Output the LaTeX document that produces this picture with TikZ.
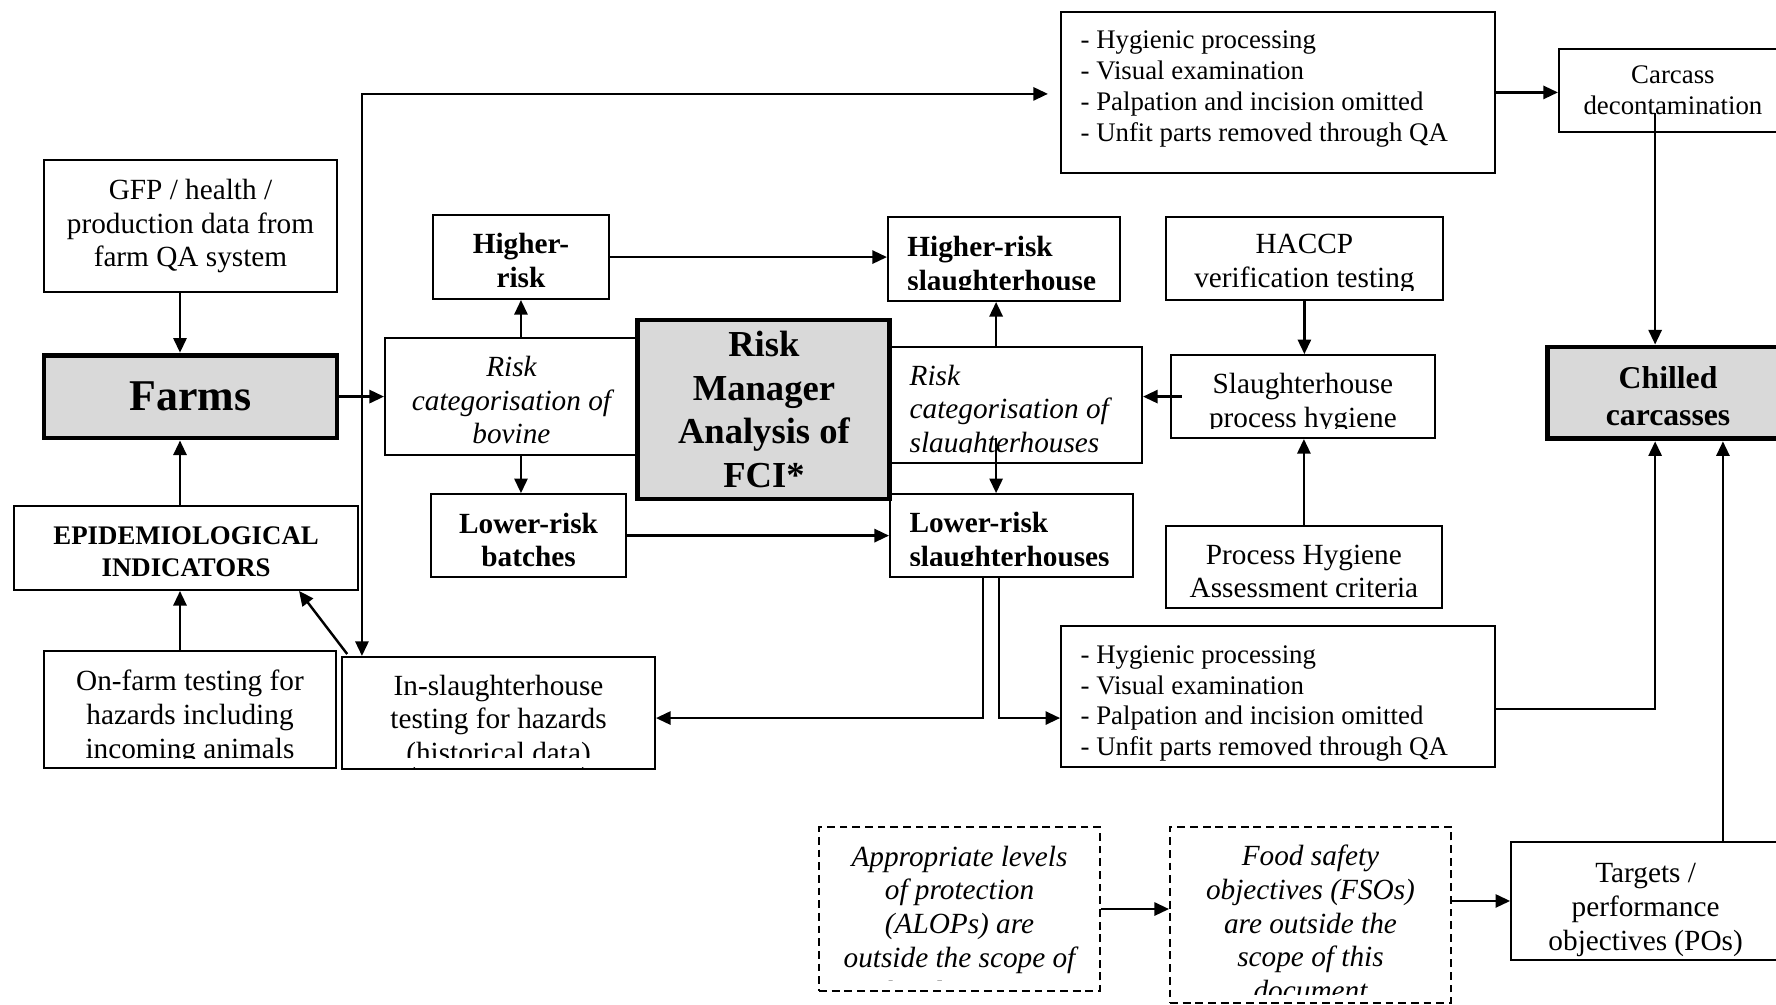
\documentclass[tikz,border=0pt]{standalone}
\usepackage{fontspec}
\setmainfont{Liberation Serif}
\usetikzlibrary{arrows.meta}
\usetikzlibrary{calc}
\definecolor{boxgray}{gray}{0.85}
\tikzstyle{box}=[draw, line width=0.8pt, inner sep=0pt, align=center, font=\fontsize{12}{13.9}\selectfont]
\tikzstyle{mainbox}=[box, line width=2pt, fill=boxgray]
\tikzstyle{dbox}=[draw, line width=0.8pt, inner sep=0pt, dash pattern=on 3.2pt off 2pt]
\tikzstyle{tx}=[inner sep=0pt, align=center, font=\fontsize{12}{13.9}\selectfont]
\tikzstyle{ltx}=[tx, align=flush left]
\tikzstyle{arr}=[line width=1pt, -{Triangle[length=6pt,width=5.4pt]}]
\tikzstyle{arrs}=[line width=1pt, {Triangle[length=6pt,width=5.4pt]}-{Triangle[length=6pt,width=5.4pt]}]
% hides the cut-off bottom of a text box
\newcommand*{\cutoff}[2]{\fill[white] ([shift={(1pt,1pt)}]#1.south west) rectangle ([shift={(-1pt,#2)}]#1.south east);}

\begin{document}
\begin{tikzpicture}[x=1pt, y=-1pt]
    \clip (0,0) rectangle (728.16,412.05);
    % farm side
    \node[box, minimum width=120.1pt, minimum height=54.1pt] (gfp) at (78.1,92.7) {GFP / health /\\ production data from\\ farm QA system};
    \node[mainbox, font=\fontsize{18}{20}\selectfont\bfseries, minimum width=120.1pt, minimum height=34pt] (farms) at (78.1,162.6) {Farms};
    \node[box, minimum width=141pt, minimum height=34.4pt] (epi) at (76.3,224.7) {};
    \node[tx, font=\fontsize{11}{13}\selectfont\bfseries] (epitxt) at ($(epi)+(0,1.4)$) {EPIDEMIOLOGICAL\\ INDICATORS};
    \node[box, minimum width=119.7pt, minimum height=48pt] (onfarm) at (77.9,290.9) {};
    \node[tx] (onfarmtxt) at ($(onfarm)+(0,3.2)$) {On-farm testing for\\ hazards including\\ incoming animals};
    \node[box, minimum width=128.3pt, minimum height=45.9pt] (insl) at (204.4,292.3) {};
    \node[tx] (insltxt) at ($(insl)+(0,3.7)$) {In-slaughterhouse\\ testing for hazards\\ (historical data)};
    % bovine
    \node[box, minimum width=72.2pt, minimum height=34.4pt] (higher) at (213.6,105.4) {};
    \node[tx, font=\fontsize{12}{13.9}\selectfont\bfseries] (highertxt) at ($(higher)+(0,1.4)$) {Higher-\\ risk};
    \node[box, minimum width=103.7pt, minimum height=48pt] (catbov) at (209.7,162.6) {};
    \node[tx, font=\fontsize{12}{13.9}\selectfont\itshape] (catbovtxt) at ($(catbov)+(0,1.4)$) {Risk\\ categorisation of\\ bovine};
    \node[box, minimum width=80pt, minimum height=34pt] (lowerb) at (216.7,219.6) {};
    \node[tx, font=\fontsize{12}{13.9}\selectfont\bfseries] (lowerbtxt) at ($(lowerb)+(0,1.8)$) {Lower-risk\\ batches};
    % slaughterhouses
    \node[box, minimum width=95.1pt, minimum height=34.4pt] (highsl) at (411.6,106.2) {};
    \node[ltx, font=\fontsize{12}{13.9}\selectfont\bfseries, text width=79.1pt] (highsltxt) at ($(highsl)+(0,3.2)$) {Higher-risk\\ slaughterhouse};
    \node[box, minimum width=103.3pt, minimum height=47.6pt] (catsl) at (416.6,166.1) {};
    \node[ltx, font=\fontsize{12}{13.9}\selectfont\itshape, text width=87.3pt] (catsltxt) at ($(catsl)+(0,2.8)$) {Risk\\ categorisation of\\ slaughterhouses};
    \node[box, minimum width=99.6pt, minimum height=34pt] (lowsl) at (414.7,219.6) {};
    \node[ltx, font=\fontsize{12}{13.9}\selectfont\bfseries, text width=83.6pt] (lowsltxt) at ($(lowsl)+(0,2.8)$) {Lower-risk\\ slaughterhouses};
    \node[mainbox, font=\fontsize{15}{17.8}\selectfont\bfseries, minimum width=103.3pt, minimum height=73.4pt] (rm) at (313.2,167.9) {Risk\\ Manager\\ Analysis of\\ FCI*};
    \node[box, minimum width=113.6pt, minimum height=34pt] (haccp) at (534.8,106) {};
    \node[tx] (haccptxt) at ($(haccp)+(0,2.3)$) {HACCP\\ verification testing};
    \node[box, minimum width=108.2pt, minimum height=34pt] (proc) at (534.2,162.6) {};
    \node[tx] (proctxt) at ($(proc)+(0,2.8)$) {Slaughterhouse\\ process hygiene};
    \node[box, minimum width=113.2pt, minimum height=33.6pt] (pha) at (534.6,232.5) {};
    \node[tx] (phatxt) at ($(pha)+(0,1.8)$) {Process Hygiene\\ Assessment criteria};
    \node[box, minimum width=177.9pt, minimum height=66pt] (tophyg) at (524,37.9) {};
    \node[ltx, font=\fontsize{11}{12.6}\selectfont, text width=161.9pt] (tophygtxt) at ($(tophyg)+(0,-1.4)$) {- Hygienic processing\\ - Visual examination\\ - Palpation and incision omitted\\ - Unfit parts removed through QA};
    \node[box, minimum width=177.9pt, minimum height=57.8pt] (bothyg) at (524,285.6) {};
    \node[ltx, font=\fontsize{11}{12.6}\selectfont, text width=161.9pt] (bothygtxt) at ($(bothyg)+(0,2.8)$) {- Hygienic processing\\ - Visual examination\\ - Palpation and incision omitted\\ - Unfit parts removed through QA};
    % carcasses
    \node[box, font=\fontsize{11}{12.7}\selectfont, minimum width=93.5pt, minimum height=34pt] (carcass) at (685.9,37.1) {Carcass\\ decontamination};
    \node[mainbox, minimum width=99.2pt, minimum height=37.7pt] (chilled) at (683.9,161.1) {};
    \node[tx, font=\fontsize{13}{15.2}\selectfont\bfseries] (chilledtxt) at ($(chilled)+(0,1.4)$) {Chilled\\ carcasses};
    \node[box, minimum width=110.3pt, minimum height=48.4pt] (targets) at (674.7,369.4) {};
    \node[tx] (targetstxt) at ($(targets)+(0,3.7)$) {Targets /\\ performance\\ objectives (POs)};
    % outside the scope
    \node[dbox, minimum width=115.2pt, minimum height=67.2pt] (alops) at (393.4,372.7) {};
    \begin{scope}
        \clip ([shift={(1pt,4.7pt)}]alops.south west) rectangle (alops.north east);
        \node[tx, font=\fontsize{12}{13.9}\selectfont\itshape] (alopstxt) at (393.4,378.8) {Appropriate levels\\ of protection\\ (ALOPs) are\\ outside the scope of\\ this document};
    \end{scope}
    \node[dbox, minimum width=115.2pt, minimum height=72.2pt] (fsos) at (537.3,375.2) {};
    \begin{scope}
        \clip ([shift={(1pt,4.1pt)}]fsos.south west) rectangle (fsos.north east);
        \node[tx, font=\fontsize{12}{13.9}\selectfont\itshape] (fsostxt) at (537.3,378.4) {Food safety\\ objectives (FSOs)\\ are outside the\\ scope of this\\ document};
    \end{scope}

    \cutoff{highsl}{4.9pt}
    \cutoff{haccp}{4.1pt}
    \cutoff{proc}{4.1pt}
    \cutoff{catsl}{4.5pt}
    \cutoff{lowsl}{4.9pt}
    \cutoff{onfarm}{4.1pt}
    \cutoff{insl}{4.9pt}

    % connectors
    \coordinate (col) at (73.8,0);
    \draw[arr] (gfp.south -| col) -- (farms.north -| col);
    \draw[arr] (epi.north -| col) -- (farms.south -| col);
    \draw[arr] (onfarm.north -| col) -- (epi.south -| col);
    \draw[arr] ($(insl.north west)+(2.5,-0.8)$) -- ($(epi.south east)+(-24.6,0)$);
    \coordinate (split) at (148.4,38.5);
    \draw[arrs, shorten >=5pt] (split |- insl.north) -- (split) -- (split -| tophyg.west);
    \draw[arr] (farms.east) -- (catbov.west);
    \draw[arr] (catbov.north -| higher.south) -- (higher.south);
    \draw[arr] (catbov.south -| higher.south) -- (higher.south |- lowerb.north);
    \draw[arr] (higher.east) -- (higher.east -| highsl.west);
    \draw[arr] (lowerb.east) -- (lowerb.east -| lowsl.west);
    \coordinate (slx) at ($(catsl.north)+(-8.2,0)$);
    \draw[arr] (slx) -- (slx |- highsl.south);
    \coordinate (sly) at ($(catsl.south)+(-8.2,-10.7)$);
    \draw[arr] (sly) -- (sly |- lowsl.north);
    \draw[arr] ($(proc.west)+(4.9,0)$) -- (proc.west -| catsl.east);
    \draw[arr] (haccp.south) -- (haccp.south |- proc.north);
    \draw[arr] (pha.north) -- (pha.north |- proc.south);
    \coordinate (lsa) at ($(lowsl.south)+(-11.7,0)$);
    \draw[arr] (lsa) |- ($(insl.east)+(0,2.1)$);
    \coordinate (lsb) at ($(lowsl.south)+(-5.1,0)$);
    \draw[arr] (lsb) |- ($(bothyg.west)+(0,8.8)$);
    \draw[arr] (tophyg.east) -- (tophyg.east -| carcass.west);
    \coordinate (cc) at (678.6,46.3);
    \draw[arr] (cc) -- (cc |- chilled.north);
    \coordinate (hyout) at ($(bothyg.east)+(0,5.1)$);
    \draw[arr] (hyout) -| (cc |- chilled.south);
    \coordinate (tg) at ($(targets.north)+(31.7,0)$);
    \draw[arr] (tg) -- (tg |- chilled.south);
    \draw[arr] (alops.east) -- (alops.east -| fsos.west);
    \draw[arr] (targets.west -| fsos.east) -- (targets.west);
\end{tikzpicture}
\end{document}
